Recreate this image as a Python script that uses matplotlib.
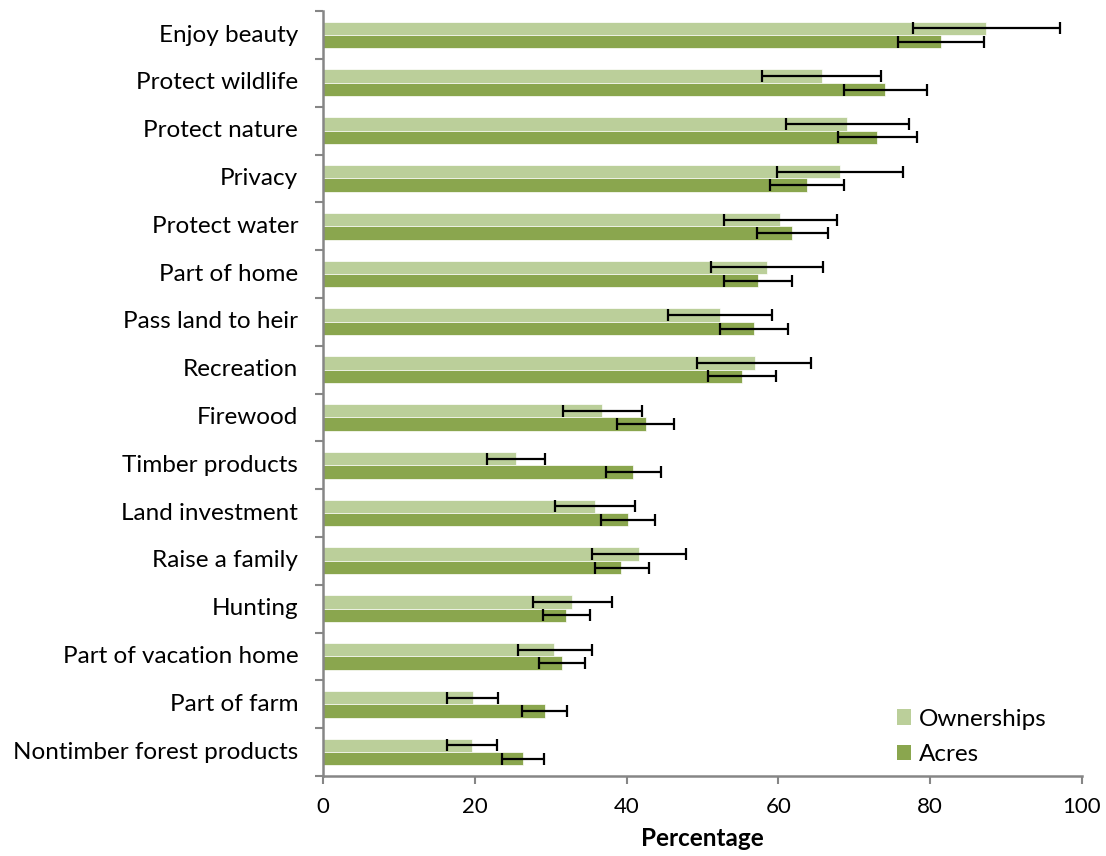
import numpy as np
import matplotlib
matplotlib.use("Agg")
import matplotlib.pyplot as plt
from matplotlib.patches import Patch

# data (percent)
categories = ["Enjoy beauty", "Protect wildlife", "Protect nature", "Privacy",
              "Protect water", "Part of home", "Pass land to heir", "Recreation",
              "Firewood", "Timber products", "Land investment", "Raise a family",
              "Hunting", "Part of vacation home", "Part of farm",
              "Nontimber forest products"]

ownerships = [87.4, 65.7, 69.0, 68.1, 60.2, 58.5, 52.3, 56.9,
              36.8, 25.4, 35.8, 41.6, 32.8, 30.4, 19.7, 19.6]
own_low = [77.8, 57.8, 61.0, 59.8, 52.8, 51.1, 45.4, 49.3,
           31.6, 21.6, 30.5, 35.5, 27.6, 25.7, 16.3, 16.3]
own_high = [97.2, 73.6, 77.2, 76.4, 67.8, 65.9, 59.2, 64.3,
            42.1, 29.2, 41.1, 47.8, 38.1, 35.4, 23.1, 22.9]

acres = [81.4, 74.1, 73.0, 63.8, 61.8, 57.3, 56.8, 55.2,
         42.5, 40.9, 40.2, 39.3, 32.0, 31.5, 29.3, 26.3]
acres_low = [75.8, 68.7, 67.9, 58.9, 57.2, 52.8, 52.3, 50.8,
             38.7, 37.3, 36.6, 35.8, 29.0, 28.4, 26.2, 23.6]
acres_high = [87.1, 79.6, 78.3, 68.7, 66.5, 61.8, 61.3, 59.7,
              46.2, 44.5, 43.8, 43.0, 35.2, 34.5, 32.2, 29.1]

LIGHT = "#BBCF9A"
DARK = "#8AA64E"
GREY = "#868686"

plt.rcParams['font.family'] = ['Lato', 'DejaVu Sans']

fig = plt.figure(figsize=(11.06, 8.56), dpi=100)
ax = fig.add_axes([0.2922, 0.0935, 0.6858, 0.8935])

y = np.arange(len(categories))
h = 0.28

own = np.array(ownerships)
ac = np.array(acres)
own_err = [own - np.array(own_low), np.array(own_high) - own]
ac_err = [ac - np.array(acres_low), np.array(acres_high) - ac]

ekw = dict(ecolor="black", elinewidth=1.6, capsize=4.5, capthick=1.6)
ax.barh(y - h / 2, own, height=h, color=LIGHT, edgecolor="white", linewidth=0.5,
        xerr=own_err, error_kw=ekw)
ax.barh(y + h / 2, ac, height=h, color=DARK, edgecolor="white", linewidth=0.5,
        xerr=ac_err, error_kw=ekw)

ax.set_ylim(len(categories) - 0.5, -0.5)
ax.set_xlim(0, 100)

# tick marks on category boundaries, labels at the centres
ax.set_yticks(np.arange(-0.5, len(categories), 1))
ax.set_yticklabels([])
ax.set_yticks(y, minor=True)
ax.set_yticklabels(categories, minor=True, fontsize=17.5, va="center")
ax.tick_params(axis="y", which="minor", length=0, pad=18)
ax.tick_params(axis="y", which="major", length=6, color=GREY, width=1.5)

ax.set_xticks(np.arange(0, 101, 20))
ax.tick_params(axis="x", length=6, color=GREY, width=1.5, labelsize=16, pad=9)
ax.set_xlabel("Percentage", fontsize=17.5, fontweight="bold", labelpad=7)

for side in ["top", "right"]:
    ax.spines[side].set_visible(False)
for side in ["left", "bottom"]:
    ax.spines[side].set_color(GREY)
    ax.spines[side].set_linewidth(1.8)

handles = [Patch(facecolor=LIGHT, label="Ownerships"), Patch(facecolor=DARK, label="Acres")]
ax.legend(handles=handles, loc="lower left", bbox_to_anchor=(0.756, 0.014), frameon=False,
          fontsize=17.5, handlelength=0.6, handleheight=0.6, handletextpad=0.3,
          labelspacing=0.6, borderpad=0, borderaxespad=0)

fig.savefig("out.png", dpi=100)
